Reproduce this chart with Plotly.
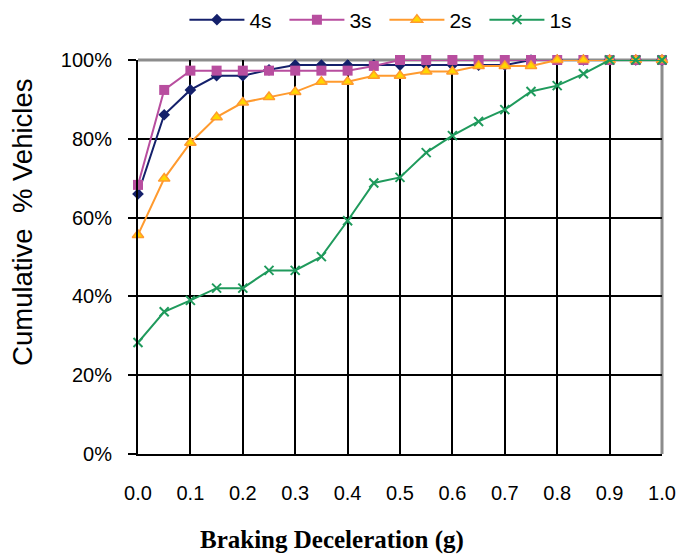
import plotly.graph_objects as go

decel = [0.0, 0.05, 0.1, 0.15, 0.2, 0.25, 0.3, 0.35, 0.4, 0.45, 0.5,
         0.55, 0.6, 0.65, 0.7, 0.75, 0.8, 0.85, 0.9, 0.95, 1.0]
s4 = [66.0, 86.1, 92.4, 96.0, 96.0, 97.5, 98.7, 98.7, 98.7, 98.7, 98.7,
      98.7, 98.7, 98.7, 98.7, 100, 100, 100, 100, 100, 100]
s3 = [68.3, 92.4, 97.3, 97.3, 97.3, 97.3, 97.3, 97.3, 97.3, 98.5, 100,
      100, 100, 100, 100, 100, 100, 100, 100, 100, 100]
s2 = [55.6, 69.9, 79.0, 85.5, 89.2, 90.6, 91.9, 94.5, 94.5, 96.0, 96.0,
      97.1, 97.1, 98.5, 98.5, 98.5, 100, 100, 100, 100, 100]
s1 = [28.3, 36.1, 39.0, 42.1, 42.1, 46.6, 46.6, 50.1, 59.2, 68.8, 70.2,
      76.5, 80.8, 84.4, 87.4, 92.0, 93.5, 96.5, 100, 100, 100]

x_ticks = [i / 10 for i in range(11)]
x_labels = [f"{v:.1f}" for v in x_ticks]
y_ticks = [0, 20, 40, 60, 80, 100]
y_labels = [f"{v}%" for v in y_ticks]
x_title = "<b>Braking Deceleration (g)</b>"
y_title = "Cumulative  % Vehicles"

series = [
    ("4s", s4, "#14206b", dict(symbol="diamond", size=9, color="#14206b")),
    ("3s", s3, "#b84e9f", dict(symbol="square", size=10, color="#b84e9f")),
    ("2s", s2, "#ff9a2e", dict(symbol="triangle-up", size=10, color="#ffd700",
                                line=dict(color="#ff9a2e", width=1.5))),
    ("1s", s1, "#1f9a5c", dict(symbol="x-thin", size=9,
                                line=dict(color="#1f9a5c", width=2))),
]

fig = go.Figure()
for name, vals, col, mk in series:
    fig.add_trace(go.Scatter(x=decel, y=vals, name=name, mode="lines+markers",
                             line=dict(color=col, width=2), marker=mk,
                             cliponaxis=False))

fig.update_layout(
    width=678, height=556,
    margin=dict(l=138, r=16, t=60, b=102, autoexpand=False),
    paper_bgcolor="white", plot_bgcolor="white",
    font=dict(family="Liberation Sans, Arial", size=20, color="black"),
    showlegend=True,
    legend=dict(orientation="h", xref="container", x=0.272, xanchor="left",
                yref="container", y=0.964, yanchor="middle",
                font=dict(size=21), itemwidth=55, entrywidth=30,
                entrywidthmode="pixels", tracegroupgap=0),
    xaxis=dict(range=[0, 1], tickmode="array",
               tickvals=x_ticks, ticktext=x_labels,
               showgrid=True, gridcolor="black", gridwidth=2,
               showline=True, linecolor="black", linewidth=2,
               ticks="", ticklabelstandoff=20, zeroline=False),
    yaxis=dict(range=[0, 100], tickmode="array",
               tickvals=y_ticks, ticktext=y_labels,
               showgrid=True, gridcolor="black", gridwidth=2,
               showline=True, linecolor="black", linewidth=2,
               ticks="outside", ticklen=8, tickwidth=2, tickcolor="black",
               ticklabelstandoff=12, zeroline=False),
    annotations=[
        dict(text=x_title, xref="paper", yref="paper", x=0.370, y=-0.218,
             xanchor="center", yanchor="middle", showarrow=False,
             font=dict(family="Liberation Serif, Times New Roman", size=25)),
        dict(text=y_title, xref="paper", yref="paper", x=-0.2195, y=0.589,
             xanchor="center", yanchor="middle", showarrow=False, textangle=-90,
             font=dict(size=27.5)),
    ],
    shapes=[
        dict(type="line", xref="paper", yref="paper", x0=0, x1=1, y0=1, y1=1,
             line=dict(color="#8c8c8c", width=3), layer="between"),
        dict(type="line", xref="paper", yref="paper", x0=1, x1=1, y0=0, y1=1,
             line=dict(color="#8c8c8c", width=3), layer="between"),
    ],
)

fig.write_html("out.html", config={"displayModeBar": False})

with open("out.html", "r", encoding="utf-8") as f:
    html = f.read()
html = html.replace("<head>", "<head><style>html,body{margin:0;padding:0;overflow:hidden;}</style>", 1)
with open("out.html", "w", encoding="utf-8") as f:
    f.write(html)
